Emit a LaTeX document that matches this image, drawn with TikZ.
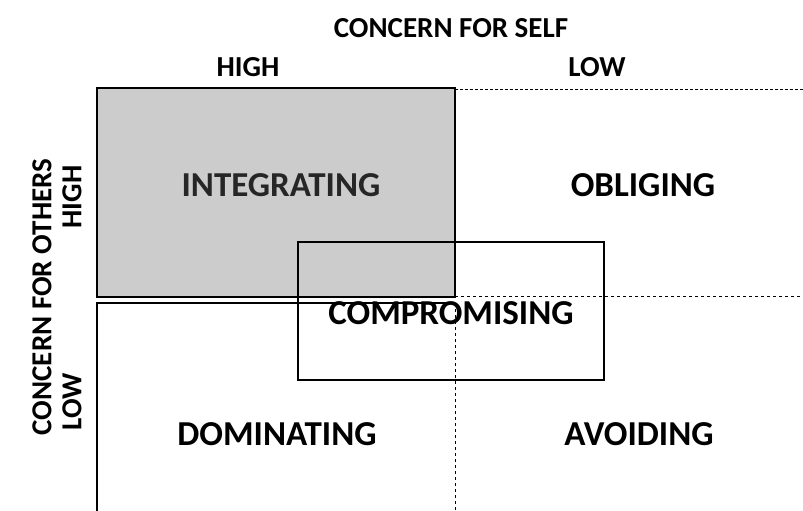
\documentclass[tikz,border=0pt]{standalone}
\usepackage{fontspec}
\setmainfont{Carlito}
\usetikzlibrary{positioning}

\begin{document}
\begin{tikzpicture}[x=1pt,y=-1pt,semithick,font=\bfseries]
  \tikzstyle{label}=[font=\fontsize{29}{34}\selectfont\bfseries]
  \tikzstyle{style}=[font=\fontsize{35}{40}\selectfont\bfseries]
  \useasboundingbox (0,0) rectangle (803,511);

  % quadrants
  \fill[gray!40] (97,88) rectangle (455,297);
  \draw[line width=2.5pt] (97,88) rectangle (455,297);
  \draw[line width=2.5pt] (97,511) -- (97,303) -- (455,303);
  \draw[dashed] (455,303) -- (455,511);
  \draw[densely dashed] (455,89) -- (803,89);
  \draw[dashed] (455,296) -- (803,296);
  \draw[line width=1.6pt] (298,242) rectangle (604,380);

  \node[label] (self)  at (451,28)  {CONCERN FOR SELF};
  \node[label] (shigh) at (248,67)  {HIGH};
  \node[label] (slow)  at (597,67)  {LOW};
  \node[label,rotate=90] (others) at (42,297)  {CONCERN FOR OTHERS};
  \node[label,rotate=90] (ohigh)  at (72,197)  {HIGH};
  \node[label,rotate=90] (olow)   at (72,402)  {LOW};

  \node[style,text=black!85] (int)  at (281,185) {INTEGRATING};
  \node[style] (obl)  at (643,185) {OBLIGING};
  \node[style] (comp) at (451,313) {COMPROMISING};
  \node[style] (dom)  at (277,434) {DOMINATING};
  \node[style] (avo)  at (639,434) {AVOIDING};
\end{tikzpicture}
\end{document}
